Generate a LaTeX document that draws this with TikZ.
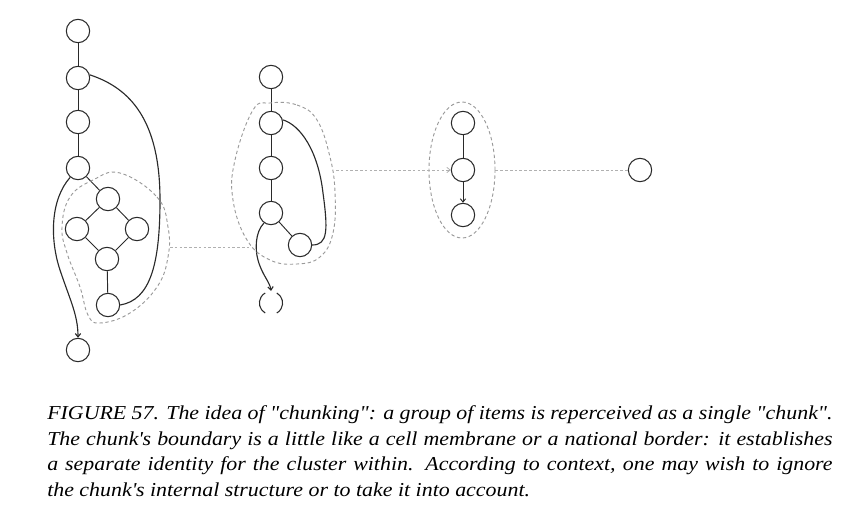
\documentclass[tikz,border=0pt]{standalone}
\usepackage{fontspec}
\newfontfamily\capfont[FakeStretch=1.11]{Liberation Serif}
\usetikzlibrary{arrows.meta,shapes.geometric}
\definecolor{ink}{HTML}{2A2A2A}
\definecolor{bnd}{HTML}{9A9A9A}
\definecolor{dotc}{HTML}{B0B0B0}
\tikzset{
  item/.style={circle,draw=ink,line width=0.8pt,minimum size=17.5pt,inner sep=0pt},
  link/.style={draw=ink,line width=0.7pt},
  loopline/.style={draw=ink,line width=0.85pt},
  chunkline/.style={draw=bnd,line width=0.7pt,dash pattern=on 2.5pt off 2pt},
  relation/.style={draw=dotc,line width=0.6pt,dash pattern=on 2pt off 1.6pt},
  tip/.style={-{Straight Barb[length=2.5pt,width=4pt]}},
  capline/.style={anchor=base west,inner sep=0pt,font=\capfont\itshape\fontsize{14.8}{18}\selectfont}
}
\newcommand{\fullline}[1]{\makebox[589pt][s]{#1}}
\begin{document}
\begin{tikzpicture}[x=0.75pt,y=-0.75pt]
\useasboundingbox (0,0) rectangle (867,510);
% ---- chunk 1 (left)
\node[item] (a1) at (78,31) {};
\node[item] (a2) at (78,78) {};
\node[item] (a3) at (78,122) {};
\node[item] (a4) at (78,168) {};
\node[item] (d1) at (108,199) {};
\node[item] (d2) at (77,229) {};
\node[item] (d3) at (137,229) {};
\node[item] (d4) at (107,259) {};
\node[item] (l1) at (108,305) {};
\node[item] (b1) at (78,350) {};
\draw[link] (a1) -- (a2);
\draw[link] (a2) -- (a3);
\draw[link] (a3) -- (a4);
\draw[link] (a4) -- (d1);
\draw[link] (d1) -- (d2);
\draw[link] (d1) -- (d3);
\draw[link] (d2) -- (d4);
\draw[link] (d3) -- (d4);
\draw[link] (d4) -- (l1);
\draw[loopline] (a2.15) .. controls (130,88) and (160,120) .. (160,200)
   .. controls (160,265) and (150,300) .. (l1.east);
\draw[loopline,tip] (a4.230) .. controls (50,200) and (50,240) .. (60,270)
   .. controls (70,300) and (78,315) .. (b1.north);
\draw[chunkline] plot[smooth cycle,tension=0.7] coordinates {
  (120,173) (157,197) (168,227) (168,257) (157,287) (130,313) (100,323)
  (88,315) (80,287) (67,253) (62,227) (70,197) (93,180)};
% ---- chunk 2 (middle)
\node[item] (c1) at (271,77) {};
\node[item] (c2) at (271,123) {};
\node[item] (c3) at (271,168) {};
\node[item] (c4) at (271,213) {};
\node[item] (c5) at (300,245) {};
\coordinate (c6) at (271,303);
\draw[link] (c1) -- (c2);
\draw[link] (c2) -- (c3);
\draw[link] (c3) -- (c4);
\draw[link] (c4) -- (c5);
\draw[loopline] (c2.15) .. controls (300,125) and (318,150) .. (323,193)
   .. controls (328,230) and (328,245) .. (c5.east);
\draw[ink,line width=0.8pt] ([shift={(120:11.6)}]c6) arc[start angle=120,end angle=240,radius=11.6];
\draw[ink,line width=0.8pt] ([shift={(-60:11.6)}]c6) arc[start angle=-60,end angle=60,radius=11.6];
\coordinate (c6top) at (271,291);
\draw[loopline,tip] (c4.235) .. controls (255,232) and (255,250) .. (258,260)
   .. controls (262,275) and (270,282) .. (c6top);
\draw[chunkline] plot[smooth cycle,tension=0.7] coordinates {
  (270,103) (297,105) (317,120) (330,157) (335,193) (333,233) (320,257)
  (297,264) (270,260) (247,240) (233,200) (235,160) (253,110)};
% ---- chunk 3
\node[item] (e1) at (463,123) {};
\node[item] (e2) at (463,170) {};
\node[item] (e3) at (463,215) {};
\draw[link] (e1) -- (e2);
\draw[link,tip] (e2) -- (e3);
\node[draw=bnd,line width=0.7pt,dash pattern=on 2.5pt off 2pt,ellipse,minimum width=49.5pt,minimum height=102pt,inner sep=0pt] (ch3) at (462,170) {};
% ---- isolated item
\node[item] (f1) at (640,170) {};
% ---- relations between chunks
\coordinate (r1a) at (170,247);
\coordinate (r1b) at (252,247);
\draw[relation] (r1a) -- (r1b);
\coordinate (r2a) at (336,170);
\draw[relation,tip] (r2a) -- (e2);
\draw[relation] (ch3.east) -- (f1);
% ---- caption
\node[capline] (t1) at (47,419) {\fullline{FIGURE 57. The idea of "chunking": a group of items is reperceived as a single "chunk".}};
\node[capline] (t2) at (47,445) {\fullline{The chunk\textquotesingle s boundary is a little like a cell membrane or a national border: it establishes}};
\node[capline] (t3) at (47,470) {\fullline{a separate identity for the cluster within. According to context, one may wish to ignore}};
\node[capline] (t4) at (47,496) {the chunk\textquotesingle s internal structure or to take it into account.};
\end{tikzpicture}
\end{document}
